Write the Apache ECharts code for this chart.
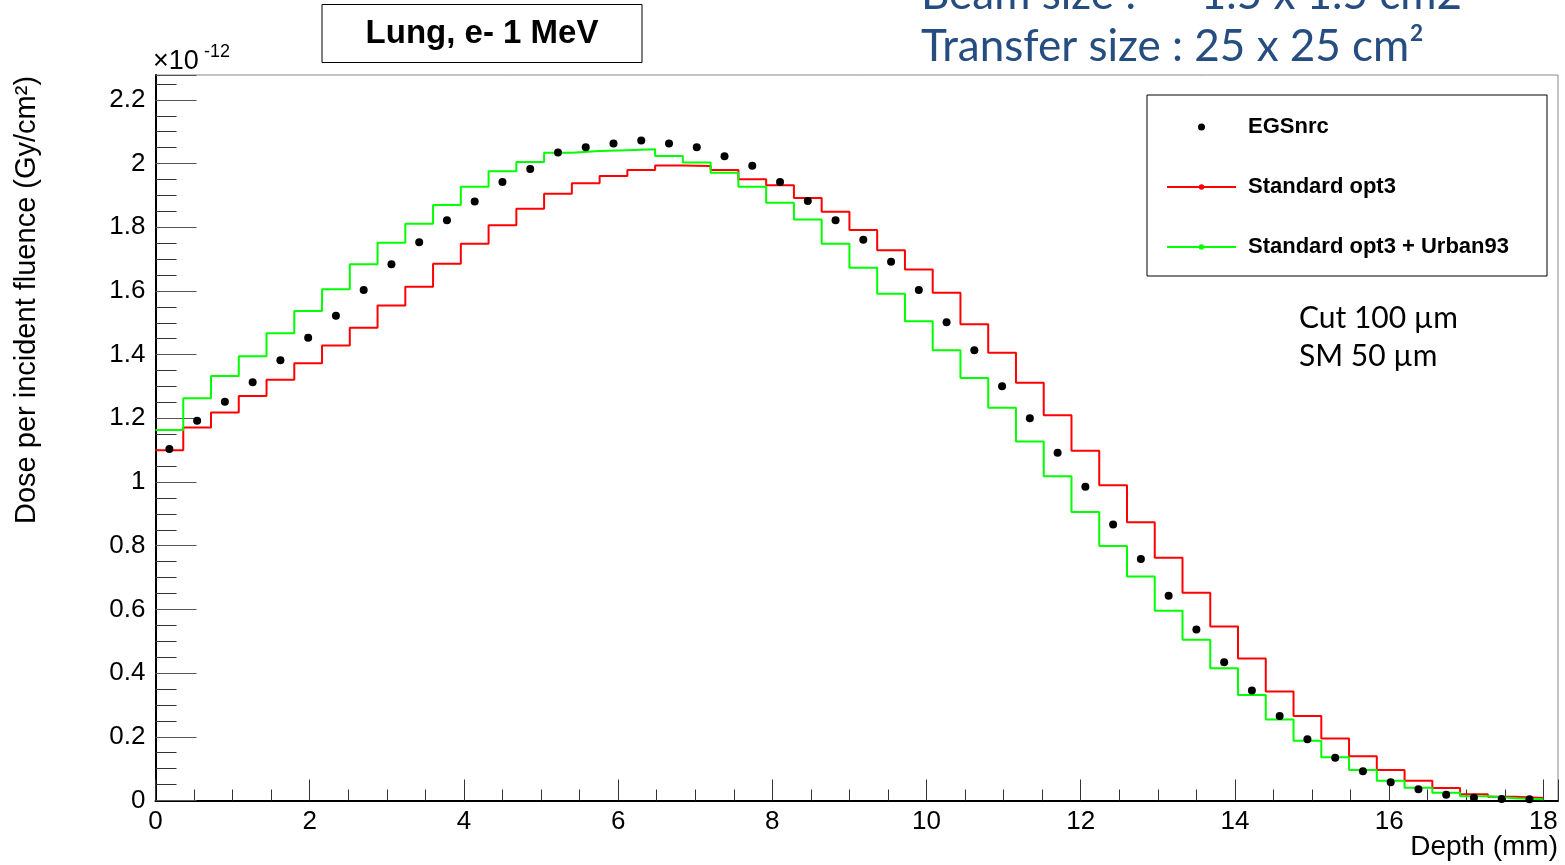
<!DOCTYPE html>
<html>
<head>
<meta charset="utf-8">
<title>Lung, e- 1 MeV</title>
<script src="https://cdn.jsdelivr.net/npm/echarts@6.0.0/dist/echarts.min.js"></script>
<style>
  html, body { margin: 0; padding: 0; background: #fff; }
  #chart { width: 1565px; height: 865px; }
</style>
</head>
<body>
<div id="chart"></div>
<script>
// depth-dose histograms, 50 bins of 0.36 mm, values in units of 1e-12 Gy/cm2
const BIN_WIDTH = 0.36

const egsnrc = [
  1.104, 1.192, 1.252, 1.313, 1.382, 1.453, 1.522, 1.603, 1.684, 1.753,
  1.822, 1.881, 1.942, 1.983, 2.035, 2.051, 2.063, 2.072, 2.063, 2.051,
  2.023, 1.993, 1.942, 1.882, 1.822, 1.761, 1.692, 1.603, 1.502, 1.414,
  1.301, 1.200, 1.092, 0.985, 0.867, 0.758, 0.643, 0.537, 0.434, 0.345,
  0.265, 0.192, 0.134, 0.092, 0.057, 0.035, 0.018, 0.009, 0.005, 0.004,
]

const standardOpt3 = [
  1.100, 1.171, 1.218, 1.270, 1.321, 1.373, 1.429, 1.484, 1.554, 1.613,
  1.685, 1.748, 1.806, 1.858, 1.905, 1.938, 1.961, 1.980, 1.994, 1.992,
  1.980, 1.951, 1.932, 1.892, 1.849, 1.791, 1.728, 1.667, 1.594, 1.495,
  1.406, 1.312, 1.210, 1.098, 0.990, 0.874, 0.762, 0.652, 0.546, 0.446,
  0.342, 0.265, 0.195, 0.139, 0.096, 0.062, 0.039, 0.020, 0.012, 0.008,
]

const opt3Urban93 = [
  1.163, 1.263, 1.333, 1.395, 1.467, 1.537, 1.605, 1.684, 1.751, 1.811,
  1.870, 1.927, 1.976, 2.005, 2.034, 2.039, 2.042, 2.045, 2.024, 2.003,
  1.971, 1.927, 1.877, 1.824, 1.748, 1.673, 1.591, 1.505, 1.414, 1.327,
  1.233, 1.127, 1.018, 0.906, 0.799, 0.703, 0.596, 0.505, 0.415, 0.331,
  0.254, 0.188, 0.136, 0.096, 0.062, 0.040, 0.024, 0.013, 0.007, 0.004,
]

const seriesNames = ['EGSnrc', 'Standard opt3', 'Standard opt3 + Urban93']

const FONT = 'Liberation Sans, Arial, sans-serif'
const SLIDE_FONT = 'Lato, Open Sans, sans-serif'

// histogram outline: one point per bin lower edge plus the last upper edge
const toSteps = (vals) => {
  const pts = vals.map((v, i) => [i * BIN_WIDTH, v])
  pts.push([vals.length * BIN_WIDTH, vals[vals.length - 1]])
  return pts
}
const toCenters = (vals) => vals.map((v, i) => [(i + 0.5) * BIN_WIDTH, v])

const chart = echarts.init(document.getElementById('chart'))

const option = {
  animation: false,
  backgroundColor: '#fff',
  grid: {
    left: 155.5, top: 75, right: 7, bottom: 64.5,
    show: true, borderColor: '#888', borderWidth: 1, backgroundColor: 'transparent',
  },
  xAxis: {
    type: 'value', min: 0, max: 18.19, interval: 2,
    axisLine: { lineStyle: { color: '#000', width: 2 } },
    axisTick: { inside: true, length: 21, lineStyle: { color: '#333', width: 1 } },
    minorTick: { show: true, splitNumber: 4, length: 11, lineStyle: { color: '#333', width: 1 } },
    splitLine: { show: false },
    axisLabel: { fontSize: 26, color: '#000', fontFamily: FONT, margin: 8, showMaxLabel: false },
  },
  yAxis: {
    type: 'value', min: 0, max: 2.278, interval: 0.2,
    axisLine: { show: true, lineStyle: { color: '#000', width: 2 } },
    axisTick: { show: true, inside: true, length: 41, lineStyle: { color: '#555', width: 1 } },
    minorTick: { show: true, splitNumber: 4, length: 21, lineStyle: { color: '#333', width: 1 } },
    splitLine: { show: false },
    axisLabel: { fontSize: 26, color: '#000', fontFamily: FONT, margin: 10, showMaxLabel: false },
  },
  legend: {
    orient: 'vertical',
    left: 1161, top: 111,
    itemWidth: 69, itemHeight: 7, itemGap: 38,
    selectedMode: false,
    textStyle: { fontSize: 22, fontWeight: 'bold', color: '#000', fontFamily: FONT, padding: [0, 0, 0, 7] },
    data: seriesNames,
  },
  series: [
    {
      name: seriesNames[1], type: 'line', step: 'end', symbol: 'none',
      lineStyle: { color: '#ff0000', width: 2 }, itemStyle: { color: '#ff0000' },
      data: toSteps(standardOpt3), z: 2,
    },
    {
      name: seriesNames[2], type: 'line', step: 'end', symbol: 'none',
      lineStyle: { color: '#00ff00', width: 2 }, itemStyle: { color: '#00ff00' },
      data: toSteps(opt3Urban93), z: 3,
    },
    {
      name: seriesNames[0], type: 'scatter', symbol: 'circle', symbolSize: 8,
      itemStyle: { color: '#000', opacity: 1 },
      data: toCenters(egsnrc), z: 4,
    },
  ],
  graphic: [
    // title box
    {
      type: 'rect', shape: { x: 322, y: 4.5, width: 320, height: 58 },
      style: { fill: '#fff', stroke: '#000', lineWidth: 1 }, z: 10,
    },
    {
      type: 'text', x: 482, y: 34, z: 11,
      style: { text: 'Lung, e- 1 MeV', font: 'bold 33px ' + FONT, fill: '#000', align: 'center', verticalAlign: 'middle' },
    },
    // exponent
    {
      type: 'text', x: 153, y: 62, z: 10,
      style: { text: '×10', font: '27px ' + FONT, fill: '#000', align: 'left', verticalAlign: 'middle' },
    },
    {
      type: 'text', x: 204, y: 52, z: 10,
      style: { text: '-12', font: '18px ' + FONT, fill: '#000', align: 'left', verticalAlign: 'middle' },
    },
    // axis titles
    {
      type: 'text', x: 27, y: 524, rotation: Math.PI / 2, z: 10,
      style: { text: 'Dose per incident fluence (Gy/cm²)', font: '29px ' + FONT, fill: '#000', align: 'left', verticalAlign: 'middle' },
    },
    {
      type: 'text', x: 1558, y: 847, z: 10,
      style: { text: 'Depth (mm)', font: '28px ' + FONT, fill: '#000', align: 'right', verticalAlign: 'middle' },
    },
    // legend frame
    {
      type: 'rect', shape: { x: 1147, y: 95, width: 400, height: 181 },
      style: { fill: 'transparent', stroke: '#000', lineWidth: 1 }, z: 1,
    },
    // slide annotations
    {
      type: 'text', x: 921, y: -5, z: 10,
      style: { text: 'Beam size :', font: '44px ' + SLIDE_FONT, fill: '#264d80', align: 'left', verticalAlign: 'middle' },
    },
    {
      type: 'text', x: 1462, y: -5, z: 10,
      style: { text: '1.5 x 1.5 cm2', font: '44px ' + SLIDE_FONT, fill: '#264d80', align: 'right', verticalAlign: 'middle' },
    },
    {
      type: 'text', x: 921, y: 47, z: 10,
      style: { text: 'Transfer size : 25 x 25 cm²', font: '44px ' + SLIDE_FONT, fill: '#264d80', align: 'left', verticalAlign: 'middle' },
    },
    {
      type: 'text', x: 1299, y: 318, z: 10,
      style: { text: 'Cut 100 µm', font: '30px ' + SLIDE_FONT, fill: '#000', align: 'left', verticalAlign: 'middle' },
    },
    {
      type: 'text', x: 1299, y: 356, z: 10,
      style: { text: 'SM 50 µm', font: '30px ' + SLIDE_FONT, fill: '#000', align: 'left', verticalAlign: 'middle' },
    },
  ],
}

chart.setOption(option)
</script>
</body>
</html>
